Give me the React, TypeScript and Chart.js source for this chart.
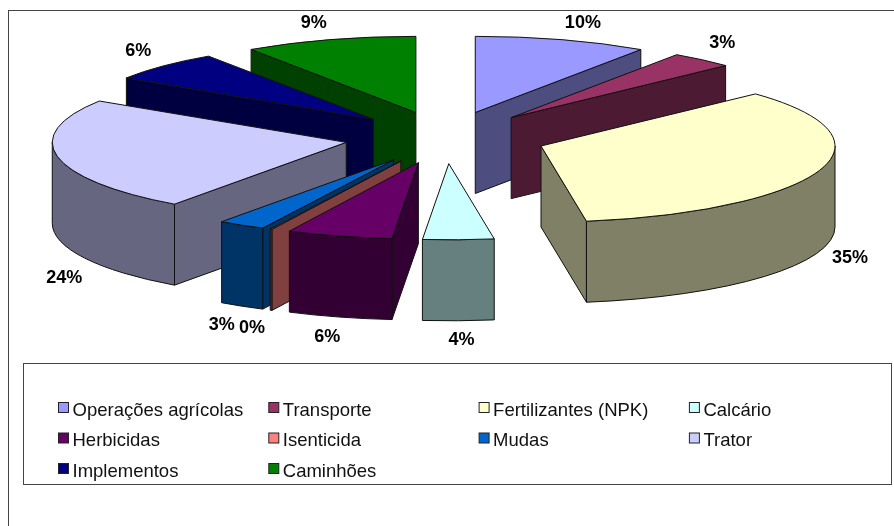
import React, { useEffect, useRef } from "react";
import { Chart, registerables } from "chart.js";

Chart.register(...registerables);

const categories = [
  "Operações agrícolas", "Transporte", "Fertilizantes (NPK)", "Calcário", "Herbicidas",
  "Isenticida", "Mudas", "Trator", "Implementos", "Caminhões",
];
const shares = [9.52, 3.49, 34.52, 3.9, 5.8, 0.1, 2.6, 24.2, 6.4, 9.47];
const faceColors = [
  "#9999FF", "#993366", "#FFFFCC", "#CCFFFF", "#660066",
  "#FF8080", "#0066CC", "#CCCCFF", "#000080", "#008000",
];
// label offset from each slice's rim point, in pixels
const labelNudgeX = [21, 20, 31, 3, -12, -19, -20, 7, -25, -16];
const labelNudgeY = [-16.5, -16.5, 6.5, 19.5, 20, 18, 19, 41, -14.5, -16.5];

const W = 894;
const H = 526;
const TILT = 0.259;
const DEPTH = 81;
const EXPLODE = 101;
const RADIUS = 294;
const FONT = '"Liberation Sans", Arial, sans-serif';

const halve = (hex: string) => {
  const n = parseInt(hex.slice(1), 16);
  const c = [(n >> 16) & 255, (n >> 8) & 255, n & 255].map((v) => Math.round(v / 2));
  return `rgb(${c[0]},${c[1]},${c[2]})`;
};

const pie3d = {
  id: "pie3d",
  beforeDraw(chart: any) {
    const { ctx } = chart;
    ctx.save();
    ctx.fillStyle = "#fff";
    ctx.fillRect(0, 0, W, H);
    ctx.strokeStyle = "#444";
    ctx.lineWidth = 1;
    ctx.strokeRect(8.5, 10.5, W + 20, H + 20);
    ctx.restore();
  },
  beforeDatasetDraw(chart: any, args: any) {
    const { ctx } = chart;
    const arcs = args.meta.data.map((el: any, i: number) => {
      const p = el.getProps(["x", "y", "startAngle", "endAngle", "outerRadius"], true);
      const mid = (p.startAngle + p.endAngle) / 2;
      return {
        i,
        s: p.startAngle,
        e: p.endAngle,
        r: p.outerRadius,
        mid,
        ax: p.x + EXPLODE * Math.cos(mid),
        ay: p.y + EXPLODE * TILT * Math.sin(mid),
      };
    });
    arcs.sort((a: any, b: any) => Math.sin(a.mid) - Math.sin(b.mid));
    ctx.save();
    ctx.lineWidth = 1;
    ctx.lineJoin = "round";
    ctx.strokeStyle = "#111";
    for (const a of arcs) {
      const { s, e, r, ax, ay } = a;
      const ry = r * TILT;
      const side = halve(faceColors[a.i]);
      const paint = (fill: string) => {
        ctx.fillStyle = fill;
        ctx.fill();
        ctx.stroke();
      };
      const radial = (t: number) => {
        const x = ax + r * Math.cos(t);
        const y = ay + ry * Math.sin(t);
        ctx.beginPath();
        ctx.moveTo(ax, ay);
        ctx.lineTo(x, y);
        ctx.lineTo(x, y + DEPTH);
        ctx.lineTo(ax, ay + DEPTH);
        ctx.closePath();
        paint(side);
      };
      if (Math.cos(s) < 0) radial(s);
      if (Math.cos(e) > 0) radial(e);
      const t0 = Math.max(s, 0);
      const t1 = Math.min(e, Math.PI);
      if (t1 > t0) {
        ctx.beginPath();
        ctx.ellipse(ax, ay, r, ry, 0, t0, t1);
        ctx.lineTo(ax + r * Math.cos(t1), ay + ry * Math.sin(t1) + DEPTH);
        ctx.ellipse(ax, ay + DEPTH, r, ry, 0, t1, t0, true);
        ctx.closePath();
        paint(side);
      }
      ctx.beginPath();
      ctx.moveTo(ax, ay);
      ctx.ellipse(ax, ay, r, ry, 0, s, e);
      ctx.closePath();
      paint(faceColors[a.i]);
    }
    ctx.restore();
    return false;
  },
  afterDraw(chart: any) {
    const { ctx } = chart;
    const meta = chart.getDatasetMeta(0);
    const total = shares.reduce((a, b) => a + b, 0);
    ctx.save();
    ctx.fillStyle = "#000";
    ctx.textAlign = "center";
    ctx.textBaseline = "middle";
    ctx.font = `bold 18px ${FONT}`;
    meta.data.forEach((el: any, i: number) => {
      const mid = (el.startAngle + el.endAngle) / 2;
      const rim = el.outerRadius + EXPLODE;
      const x = el.x + rim * Math.cos(mid) + labelNudgeX[i];
      const y = el.y + rim * TILT * Math.sin(mid) + (Math.sin(mid) > 0 ? DEPTH : 0) + labelNudgeY[i];
      ctx.fillText(`${Math.round((shares[i] / total) * 100)}%`, x, y);
    });

    ctx.strokeStyle = "#444";
    ctx.lineWidth = 1;
    ctx.strokeRect(23.5, 363.5, 868, 121);
    ctx.textAlign = "left";
    ctx.font = `18.5px ${FONT}`;
    categories.forEach((name, i) => {
      const col = i % 4;
      const row = Math.floor(i / 4);
      const x = 58.5 + col * 210.3;
      const y = 410 + row * 30.5;
      ctx.fillStyle = faceColors[i];
      ctx.fillRect(x, y - 7.5, 10, 10);
      ctx.strokeStyle = "#222";
      ctx.strokeRect(x, y - 7.5, 10, 10);
      ctx.fillStyle = "#111";
      ctx.fillText(name, x + 14, y + 0.5);
    });
    ctx.restore();
  },
};

export default function App() {
  const ref = useRef<HTMLCanvasElement>(null);
  useEffect(() => {
    const chart = new Chart(ref.current!, {
      type: "pie",
      data: {
        labels: categories,
        datasets: [{ data: shares, backgroundColor: faceColors, clip: false } as any],
      },
      options: {
        responsive: false,
        animation: false,
        radius: RADIUS,
        layout: { padding: { right: 3, bottom: 251 } },
        plugins: { legend: { display: false }, tooltip: { enabled: false }, title: { display: false } },
      } as any,
      plugins: [pie3d as any],
    });
    return () => chart.destroy();
  }, []);
  return (
    <canvas
      ref={ref}
      width={W}
      height={H}
      style={{ position: "fixed", left: 0, top: 0, display: "block" }}
    />
  );
}
